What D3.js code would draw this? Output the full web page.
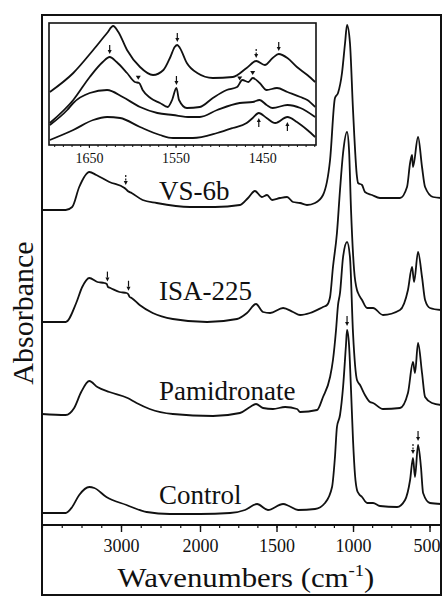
<!DOCTYPE html>
<html>
<head>
<meta charset="utf-8">
<script src="https://cdn.jsdelivr.net/npm/d3@7"></script>
<style>
  body { margin: 0; background: #fff; }
  svg text { font-family: "Liberation Serif", "Times New Roman", serif; fill: #111; }
</style>
</head>
<body>
<div id="chart"></div>
<script>
// stacked FTIR spectra, bottom to top
const seriesNames = ["Control", "Pamidronate", "ISA-225", "VS-6b"];
const offsets = [0, 0.99, 1.91, 3.03];
const labelLevels = [0.21, 0.26, 0.34, 0.22];

// [wavenumber, absorbance]
const controlSpectrum = [
  [4000,0.12],[3700,0.12],[3618,0.18],[3529,0.30],[3401,0.38],[3338,0.37],[3185,0.28],[2930,0.20],
  [2675,0.13],[2382,0.11],[2000,0.11],[1804,0.12],[1706,0.15],[1627,0.21],[1556,0.15],[1457,0.21],
  [1418,0.19],[1359,0.15],[1248,0.16],[1183,0.22],[1137,0.38],[1118,0.68],[1105,0.98],[1085,1.10],
  [1065,1.38],[1046,1.80],[1039,1.95],[1026,1.80],[1013,1.35],[1000,0.85],[987,0.50],[974,0.35],
  [961,0.31],[941,0.28],[908,0.22],[869,0.22],[824,0.19],[712,0.18],[660,0.25],[627,0.45],
  [608,0.67],[595,0.48],[575,0.80],[556,0.58],[542,0.32],[497,0.22],[425,0.21]
];
const pamidronateSpectrum = [
  [4000,0.12],[3700,0.11],[3593,0.18],[3504,0.34],[3401,0.45],[3299,0.39],[3147,0.34],[2917,0.28],
  [2803,0.23],[2637,0.17],[2344,0.12],[1915,0.10],[1739,0.13],[1673,0.19],[1634,0.22],[1588,0.18],
  [1523,0.17],[1444,0.19],[1366,0.17],[1346,0.14],[1235,0.16],[1196,0.29],[1150,0.49],[1131,0.66],
  [1111,0.96],[1098,1.21],[1085,1.33],[1065,1.69],[1039,1.84],[1020,1.69],[1000,0.93],[974,0.46],
  [954,0.41],[922,0.31],[889,0.24],[869,0.23],[804,0.17],[693,0.18],[641,0.33],[608,0.64],
  [595,0.53],[575,0.83],[549,0.53],[529,0.29],[484,0.23],[425,0.21]
];
const isaSpectrum = [
  [4000,0.12],[3700,0.12],[3567,0.31],[3491,0.47],[3401,0.56],[3299,0.52],[3210,0.51],[3180,0.50],
  [3165,0.47],[3134,0.46],[3019,0.42],[2930,0.41],[2910,0.40],[2890,0.37],[2866,0.36],[2764,0.29],
  [2599,0.21],[2344,0.15],[1954,0.12],[1758,0.15],[1693,0.21],[1634,0.30],[1588,0.22],[1542,0.21],
  [1457,0.26],[1392,0.22],[1346,0.19],[1281,0.21],[1196,0.27],[1170,0.29],[1150,0.37],[1131,0.67],
  [1105,1.01],[1085,1.44],[1065,1.81],[1039,2.02],[1026,1.84],[1013,1.24],[993,0.64],[974,0.44],
  [967,0.41],[941,0.34],[908,0.26],[869,0.26],[804,0.19],[693,0.24],[641,0.44],[614,0.67],
  [601,0.52],[575,0.82],[549,0.57],[529,0.34],[497,0.26],[425,0.24]
];
const vs6bSpectrum = [
  [4000,0.12],[3700,0.12],[3618,0.15],[3529,0.35],[3401,0.50],[3312,0.47],[3147,0.40],[2955,0.34],
  [2940,0.33],[2915,0.31],[2866,0.29],[2726,0.22],[2548,0.19],[2127,0.15],[1902,0.15],[1739,0.17],
  [1686,0.24],[1641,0.31],[1595,0.25],[1562,0.27],[1529,0.22],[1477,0.24],[1431,0.25],[1392,0.20],
  [1346,0.19],[1301,0.17],[1248,0.19],[1196,0.27],[1150,0.62],[1118,1.24],[1098,1.29],[1072,1.49],
  [1052,1.79],[1039,1.97],[1020,1.79],[1000,1.12],[974,0.45],[967,0.39],[941,0.37],[922,0.30],
  [876,0.27],[824,0.24],[693,0.24],[647,0.35],[627,0.59],[614,0.67],[608,0.55],[575,0.85],
  [549,0.55],[529,0.35],[477,0.25],[425,0.24]
];
const spectra = [controlSpectrum, pamidronateSpectrum, isaSpectrum, vs6bSpectrum];

// inset: 1700-1390 cm-1, top to bottom VS-6b, ISA-225, Pamidronate, Control
const insetVs6b = [
  [1695,0.53],[1668,0.72],[1645,0.95],[1629,1.12],[1622,1.19],[1616,1.13],[1606,0.95],[1591,0.78],
  [1576,0.70],[1564,0.75],[1556,0.88],[1551,0.98],[1548,1.00],[1545,0.97],[1537,0.82],[1525,0.72],
  [1507,0.67],[1484,0.68],[1468,0.77],[1457,0.84],[1447,0.80],[1438,0.87],[1431,0.91],[1421,0.87],
  [1410,0.78],[1398,0.70],[1389,0.63]
];
const insetIsa = [
  [1695,0.22],[1668,0.45],[1649,0.68],[1634,0.83],[1626,0.88],[1618,0.83],[1606,0.72],[1597,0.63],
  [1592,0.62],[1588,0.55],[1579,0.47],[1568,0.42],[1559,0.38],[1554,0.45],[1549,0.57],[1546,0.45],
  [1537,0.37],[1522,0.38],[1507,0.47],[1491,0.55],[1479,0.58],[1473,0.65],[1466,0.63],[1461,0.67],
  [1453,0.62],[1445,0.55],[1433,0.57],[1421,0.53],[1406,0.48],[1398,0.45],[1389,0.38]
];
const insetPamidronate = [
  [1695,0.20],[1675,0.35],[1668,0.42],[1649,0.52],[1629,0.55],[1611,0.48],[1591,0.38],[1571,0.32],
  [1553,0.30],[1533,0.28],[1522,0.28],[1502,0.35],[1476,0.42],[1461,0.43],[1453,0.45],[1445,0.40],
  [1438,0.37],[1421,0.40],[1406,0.37],[1389,0.28]
];
const insetControl = [
  [1695,0.05],[1668,0.15],[1645,0.25],[1629,0.28],[1614,0.27],[1591,0.18],[1568,0.10],[1553,0.07],
  [1530,0.07],[1502,0.12],[1484,0.17],[1468,0.22],[1461,0.27],[1454,0.32],[1445,0.27],[1435,0.22],
  [1421,0.28],[1410,0.23],[1398,0.15],[1389,0.08]
];
const insetSpectra = [insetVs6b, insetIsa, insetPamidronate, insetControl];

// band markers
const mainArrows = [
  { series: 3, wn: 2940, kind: "down", dashed: true },
  { series: 2, wn: 3172, kind: "down" },
  { series: 2, wn: 2905, kind: "down" },
  { series: 0, wn: 1039, kind: "down" },
  { series: 0, wn: 608, kind: "down", dashed: true },
  { series: 0, wn: 575, kind: "down" }
];
const insetArrows = [
  { curve: 0, wn: 1548, kind: "down" },
  { curve: 0, wn: 1457, kind: "down", dashed: true },
  { curve: 0, wn: 1431, kind: "down" },
  { curve: 1, wn: 1626, kind: "down" },
  { curve: 1, wn: 1549, kind: "down" },
  { curve: 1, wn: 1593, kind: "head" },
  { curve: 1, wn: 1476, kind: "head" },
  { curve: 1, wn: 1461, kind: "head" },
  { curve: 3, wn: 1454, kind: "up" },
  { curve: 3, wn: 1421, kind: "up" }
];

const mainTicks = [3000, 2000, 1500, 1000, 500];
const mainMinorTicks = d3.range(4000, 2000, -250).concat(d3.range(2000, 430, -125));
const insetTicks = [1650, 1550, 1450];
const insetMinorTicks = d3.range(1690, 1388, -10);

const W = 444, H = 597;
const svg = d3.select("#chart").append("svg")
  .attr("width", W)
  .attr("height", H);

const x = d3.scaleLinear().domain([4000, 2000, 425]).range([42, 200, 441]);
const y = d3.scaleLinear().domain([0, 5.1]).range([525, 15]);
const ix = d3.scaleLinear().domain([1696, 1388]).range([49, 316]);
const iy = d3.scaleLinear().domain([0, 1.22]).range([145, 23]);

function valueAt(spec, wn) {
  for (let i = 0; i < spec.length - 1; i++) {
    const a = spec[i], b = spec[i + 1];
    if (wn <= a[0] && wn >= b[0]) {
      const t = (a[0] - wn) / (a[0] - b[0]);
      return a[1] + t * (b[1] - a[1]);
    }
  }
  return spec[spec.length - 1][1];
}

function drawArrow(g, px, tipY, kind, dashed, len, gap) {
  const head = 4;
  if (kind === "head") {
    const t = tipY - gap;
    g.append("path")
      .attr("d", `M${px - 2.5},${t - 4}L${px + 2.5},${t - 4}L${px},${t}Z`)
      .attr("fill", "#111");
    return;
  }
  const dir = kind === "down" ? 1 : -1;
  const t = tipY - dir * gap;
  g.append("line")
    .attr("x1", px).attr("x2", px)
    .attr("y1", t - dir * len).attr("y2", t - dir * head)
    .attr("stroke", "#111")
    .attr("stroke-width", 1.2)
    .attr("stroke-dasharray", dashed ? "2,1.5" : null);
  g.append("path")
    .attr("d", `M${px - 2},${t - dir * head}L${px + 2},${t - dir * head}L${px},${t}Z`)
    .attr("fill", "#111");
}

// main spectra
const line = d3.line()
  .x(d => x(d[0]))
  .y(d => y(d[1]))
  .curve(d3.curveMonotoneX);

spectra.forEach((spec, i) => {
  svg.append("path")
    .datum(spec.map(d => [d[0], d[1] + offsets[i]]))
    .attr("d", line)
    .attr("fill", "none")
    .attr("stroke", "#111")
    .attr("stroke-width", 1.8)
    .attr("stroke-linejoin", "round");

  svg.append("text")
    .attr("x", x(2520))
    .attr("y", y(offsets[i] + labelLevels[i]))
    .attr("font-size", "27px")
    .text(seriesNames[i]);
});

const arrowG = svg.append("g");
mainArrows.forEach(a => {
  const v = valueAt(spectra[a.series], a.wn) + offsets[a.series];
  drawArrow(arrowG, x(a.wn), y(v), a.kind, a.dashed, 10, 4);
});

// frame and x axis
svg.append("rect")
  .attr("x", 42).attr("y", 15)
  .attr("width", 399).attr("height", 580)
  .attr("fill", "none")
  .attr("stroke", "#111")
  .attr("stroke-width", 2);

svg.append("line")
  .attr("x1", 42).attr("x2", 441)
  .attr("y1", 525).attr("y2", 525)
  .attr("stroke", "#111")
  .attr("stroke-width", 2);

const xAxis = svg.append("g")
  .attr("transform", "translate(0,525)")
  .call(d3.axisBottom(x).tickValues(mainTicks).tickSize(7).tickPadding(7).tickFormat(d3.format("d")));
xAxis.select(".domain").remove();
xAxis.selectAll("line").attr("stroke", "#111").attr("stroke-width", 1.4);
xAxis.selectAll("text")
  .attr("font-family", "Liberation Serif, serif")
  .attr("font-size", "18px")
  .attr("fill", "#111")
  .attr("dx", d => d === 500 ? -3 : 0);

const xMinor = svg.append("g")
  .attr("transform", "translate(0,525)")
  .call(d3.axisBottom(x).tickValues(mainMinorTicks).tickSize(3).tickFormat(""));
xMinor.select(".domain").remove();
xMinor.selectAll("line").attr("stroke", "#111").attr("stroke-width", 1.2);

const title = svg.append("text")
  .attr("transform", "translate(246,587) scale(1.1,1)")
  .attr("text-anchor", "middle")
  .attr("font-size", "28px");
title.append("tspan").text("Wavenumbers (cm");
title.append("tspan").attr("font-size", "17px").attr("dy", -11).text("-1");
title.append("tspan").attr("dy", 11).text(")");

svg.append("text")
  .attr("transform", "translate(33,313) rotate(-90)")
  .attr("text-anchor", "middle")
  .attr("font-size", "30px")
  .text("Absorbance");

// inset
const inset = svg.append("g");
inset.append("rect")
  .attr("x", 49).attr("y", 23)
  .attr("width", 267).attr("height", 122)
  .attr("fill", "#fff")
  .attr("stroke", "#111")
  .attr("stroke-width", 1.6);

const insetLine = d3.line()
  .x(d => ix(d[0]))
  .y(d => iy(d[1]))
  .curve(d3.curveMonotoneX);

insetSpectra.forEach(spec => {
  inset.append("path")
    .datum(spec)
    .attr("d", insetLine)
    .attr("fill", "none")
    .attr("stroke", "#111")
    .attr("stroke-width", 1.8)
    .attr("stroke-linejoin", "round");
});

insetArrows.forEach(a => {
  const v = valueAt(insetSpectra[a.curve], a.wn);
  drawArrow(inset, ix(a.wn), iy(v), a.kind, a.dashed, 9, a.kind === "up" ? 5 : 3);
});

const ixAxis = inset.append("g")
  .attr("transform", "translate(0,145)")
  .call(d3.axisBottom(ix).tickValues(insetTicks).tickSize(3).tickPadding(5).tickFormat(d3.format("d")));
ixAxis.select(".domain").remove();
ixAxis.selectAll("line").attr("stroke", "#111");
ixAxis.selectAll("text")
  .attr("font-family", "Liberation Serif, serif")
  .attr("font-size", "14px")
  .attr("fill", "#111");

const ixMinor = inset.append("g")
  .attr("transform", "translate(0,145)")
  .call(d3.axisBottom(ix).tickValues(insetMinorTicks).tickSize(2).tickFormat(""));
ixMinor.select(".domain").remove();
ixMinor.selectAll("line").attr("stroke", "#111");
</script>
</body>
</html>
